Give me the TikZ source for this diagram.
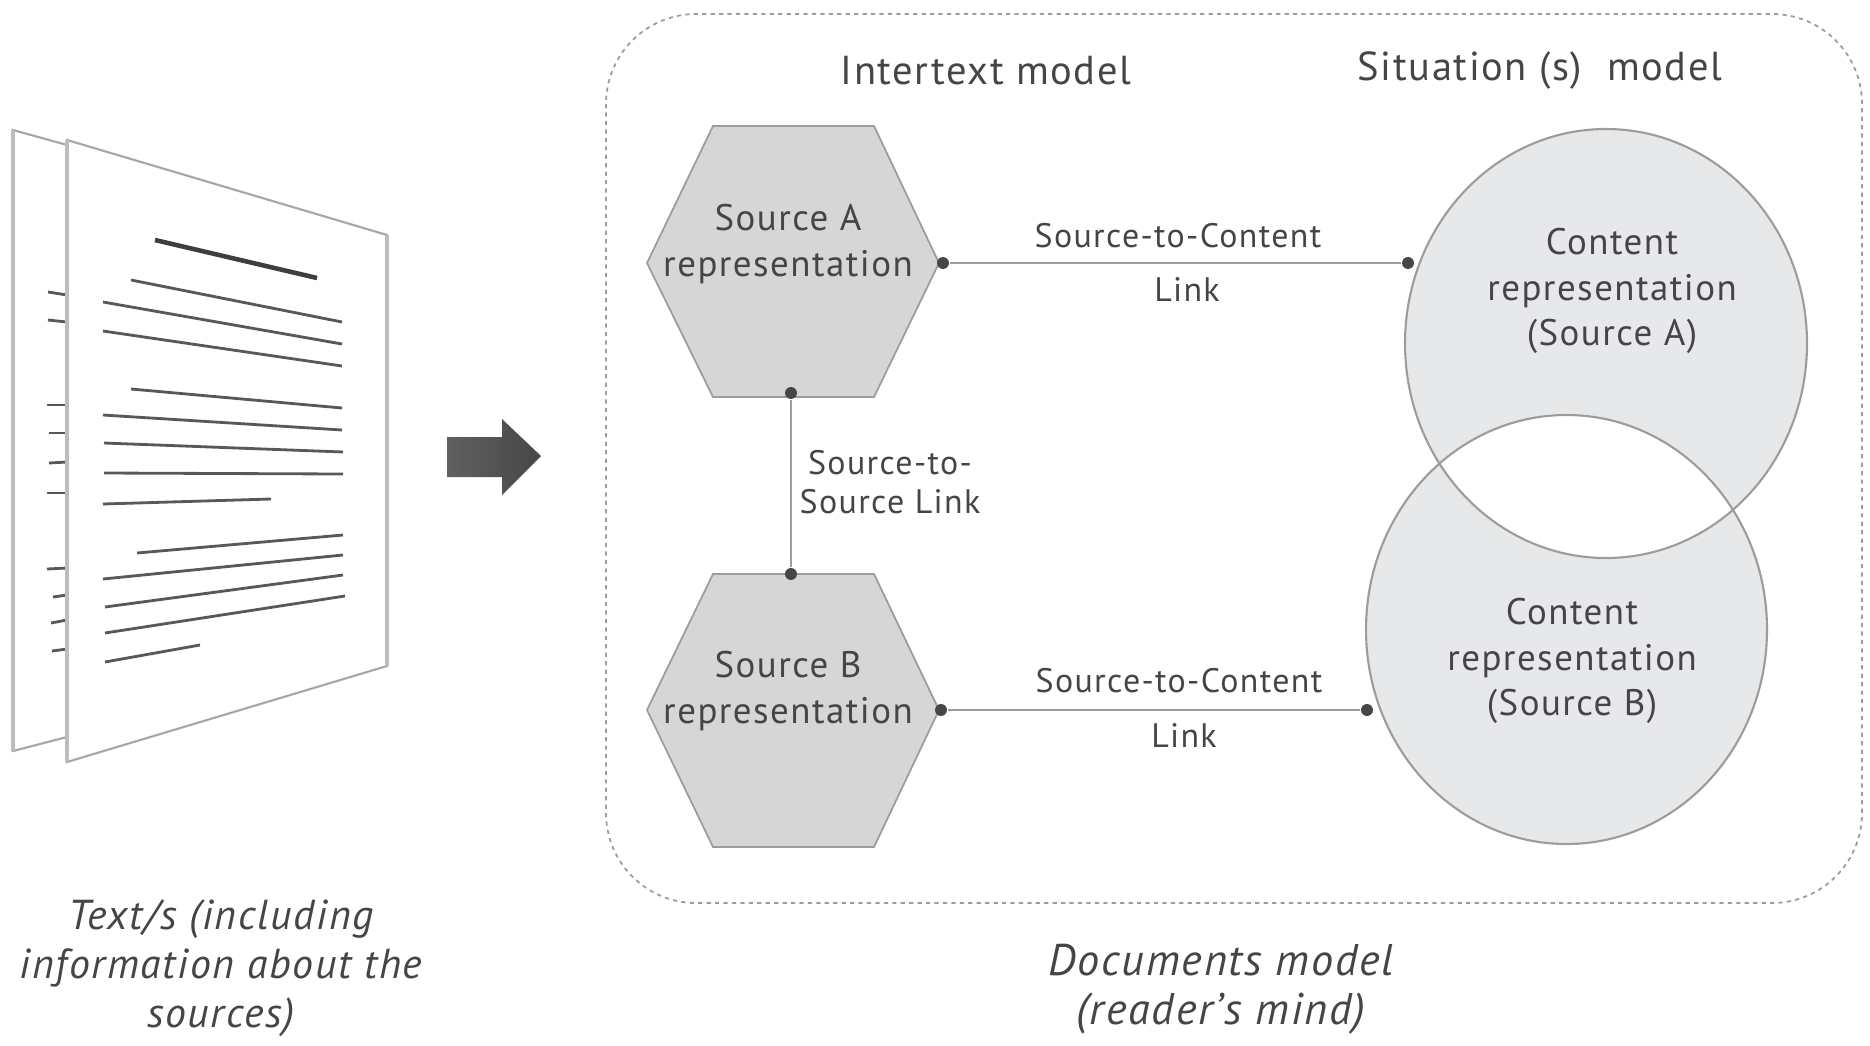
\documentclass[tikz,border=0pt]{standalone}
\usepackage{fontspec}
\setmainfont[LetterSpace=4]{PT Sans}
\usetikzlibrary{positioning}
\definecolor{inkclr}{HTML}{454547}
\definecolor{pageclr}{HTML}{A6A6A6}
\definecolor{sideclr}{HTML}{BDBDBD}
\definecolor{ruleclr}{HTML}{58585A}
\definecolor{hexclr}{HTML}{D6D6D7}
\definecolor{edgeclr}{HTML}{9C9C9C}
\definecolor{contclr}{HTML}{E6E8EA}
\tikzset{
  page/.style={draw=pageclr,fill=white,line width=0.6pt},
  pageside/.style={draw=sideclr,line width=1pt},
  txtline/.style={draw=ruleclr,line width=0.8pt},
  hexbox/.style={draw=edgeclr,fill=hexclr,line width=0.5pt},
  lbl/.style={inner sep=0pt,align=center,text=inkclr,font=\fontsize{10.5}{13}\selectfont},
  linklbl/.style={lbl,font=\fontsize{9.65}{11}\selectfont},
  titlelbl/.style={lbl,font=\fontsize{11.5}{14}\selectfont},
  capt/.style={lbl,font=\fontsize{11.9}{14}\itshape\selectfont},
  dot/.style={circle,fill=ruleclr!80!black,inner sep=0pt,minimum size=3.4pt},
  link/.style={draw=edgeclr,line width=0.6pt}
}
\begin{document}
\begin{tikzpicture}[x=0.01cm,y=-0.01cm]
\useasboundingbox (0,0) rectangle (1870,1045);
% pages
\path[page] (13,130) -- (67,145) -- (67,737) -- (13,751) -- cycle;
\draw[pageside] (13,130) -- (13,751);
\foreach \xa/\ya/\yb in {48/292/295,48/320/322,47/405/405,49/433/433,49/463/462,47/493/493,47/569/568,53/597/595,51/623/620,52/651/649}
  \draw[txtline] (\xa,\ya) -- (67,\yb);
\path[page] (67,140) -- (387,235) -- (387,666) -- (67,762) -- cycle;
\draw[pageside] (67,140) -- (67,762);
\draw[pageside] (387,235) -- (387,666);
\draw[draw=ruleclr!70!black,line width=1.3pt] (155,240) -- (317,278);
\foreach \xa/\ya/\xb/\yb in {131/280/342/322,103/302/342/344,103/331/342/366,131/389/342/408,103/415/342/430,104/443/343/452,104/473/343/474,103/504/271/499,137/553/343/535,103/579/343/555,105/607/343/575,105/633/345/596,105/662/200/645}
  \draw[txtline] (\xa,\ya) -- (\xb,\yb);
% arrow
\path[left color=ruleclr!95!white,right color=ruleclr!80!black] (447,437) -- (502,437) -- (502,419) -- (541,456) -- (502,495) -- (502,477) -- (447,477) -- cycle;
% model box
\draw[draw=edgeclr,line width=0.5pt,dash pattern=on 1.2pt off 1.2pt,rounded corners=0.9cm] (606,14) rectangle (1862,903);
% hexagons
\draw[hexbox] (647,263) -- (713,126) -- (874,126) -- (939,263) -- (874,397) -- (713,397) -- cycle;
\draw[hexbox] (647,710) -- (713,574) -- (874,574) -- (939,710) -- (874,847) -- (713,847) -- cycle;
% circles
\draw[draw=edgeclr,fill=contclr,line width=0.6pt,even odd rule] (1606,343.5) ellipse [x radius=201,y radius=214.5] (1566.5,629.5) ellipse [x radius=200.5,y radius=214.5];
% links
\node[dot] (dotAr) at (943,263) {};
\node[dot] (dotCa) at (1408,263) {};
\node[dot] (dotBr) at (941,710) {};
\node[dot] (dotCb) at (1367,710) {};
\node[dot] (dotAb) at (791,393) {};
\node[dot] (dotBt) at (791,574) {};
\draw[link] (dotAr) -- (dotCa);
\draw[link] (dotBr) -- (dotCb);
\draw[link] (dotAb) -- (dotBt);
% labels
\node[titlelbl] (intertext) at (986,71) {Intertext model};
\node[titlelbl] (situation) at (1540,71) {Situation (s) \ model};
\node[lbl] (srcA) at (788,244) {Source A\\representation};
\node[lbl] (srcB) at (788,691) {Source B\\representation};
\node[linklbl] (linkAtop) at (1178,236) {Source-to-Content};
\node[linklbl] (linkAbot) at (1187,289) {Link};
\node[linklbl] (linkBtop) at (1179,681) {Source-to-Content};
\node[linklbl] (linkBbot) at (1184,735) {Link};
\node[linklbl] (linkSrc) at (890,482) {Source-to-\\Source Link};
\node[lbl] (contA) at (1612,291) {Content\\representation\\(Source A)};
\node[lbl] (contB) at (1572,661) {Content\\representation\\(Source B)};
\node[capt] (textcap) at (221,968) {Text/s (including\\information about the\\sources)};
\node[capt,font=\fontsize{12.6}{14}\itshape\selectfont] (modelcap) at (1221,989) {Documents model\\(reader's mind)};
\end{tikzpicture}
\end{document}
